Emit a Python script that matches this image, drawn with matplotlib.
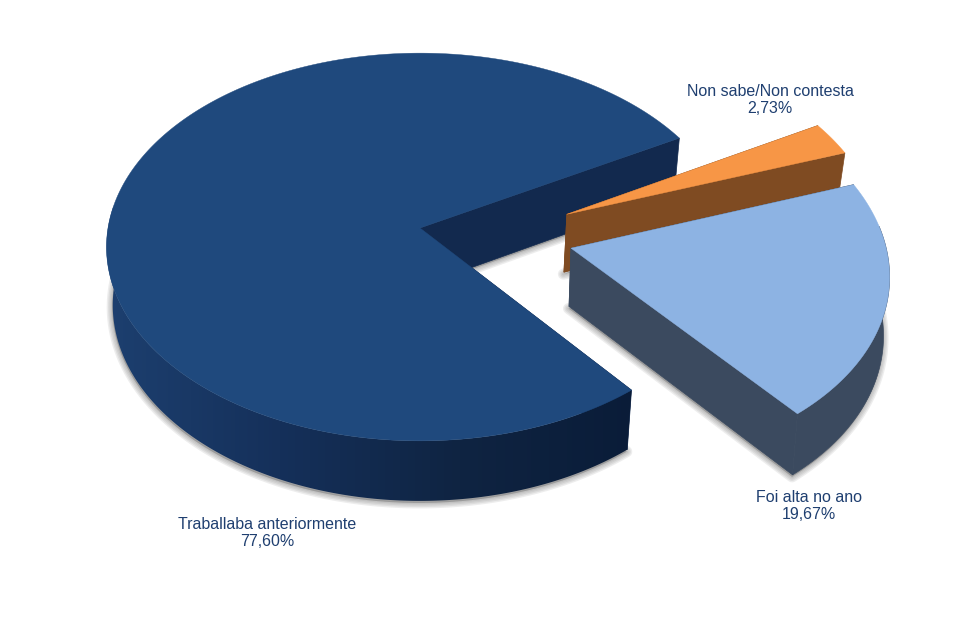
import numpy as np
import matplotlib
matplotlib.use("Agg")
import matplotlib.pyplot as plt
from matplotlib.patches import Polygon
from matplotlib.colors import LinearSegmentedColormap

plt.rcParams['font.family'] = ['Liberation Sans', 'DejaVu Sans']

categories = ["Traballaba anteriormente", "Foi alta no ano", "Non sabe/Non contesta"]
values = [77.60, 19.67, 2.73]
value_labels = ["77,60%", "19,67%", "2,73%"]

top_colors = ["#1F497D", "#8DB3E3", "#F79646"]
cut_colors = ["#12294E", "#3B4A5F", "#7F4B22"]
big_wall_colors = ["#1D4070", "#15305A", "#0F2442", "#0A1C38"]

# how far each slice is pulled out of the pie, in pie radii
explode_u = [0.0, 0.479, 0.474]
explode_v = [0.0, -0.104, 0.072]
# how much the bottom rim of each slice shrinks
shrink = [0.98, 0.987, 0.98]

start_angle = 29.4

# projection of the tilted disc, worked out against the picture
CX, CY = 420.0, 228.0
A, B, K = 312.0, 192.0, 0.098
DEPTH = 58.0


def project(u, v, bottom=None):
    w = 1 + K * v
    x = A * u / w
    y = -B * v / w
    if bottom is not None:
        x = x * bottom
        y = y * bottom + DEPTH / w
    return CX + x, CY + y


def slice_arc(a0, a1, ex, ey):
    th = np.radians(np.linspace(a0, a1, int(abs(a1 - a0)) * 2 + 2))
    return ex + np.cos(th), ey + np.sin(th), th


fig = plt.figure(figsize=(9.64, 6.24), dpi=100)
ax = fig.add_axes([0, 0, 1, 1])

angles = np.cumsum([0] + values) / sum(values) * 360 + start_angle
slices = []
for i in range(len(values)):
    slices.append((explode_u[i], explode_v[i]) + slice_arc(angles[i], angles[i + 1], explode_u[i], explode_v[i]))

# soft shadow under the bottom outline of every slice
for i, (ex, ey, u, v, th) in enumerate(slices):
    bx, by = project(np.r_[ex, u], np.r_[ey, v], shrink[i])
    for lw in [8, 6, 4, 2]:
        ax.fill(bx - 0.5, by + 2, facecolor="#555555", edgecolor="#555555",
                alpha=0.1, linewidth=lw, joinstyle="round", zorder=1)

draw_order = [0, 2, 1]
for n, i in enumerate(draw_order):
    ex, ey, u, v, th = slices[i]
    z = 2 + n

    # the two cut faces
    for j in [0, -1]:
        x0, y0 = project(ex, ey)
        x1, y1 = project(u[j], v[j])
        x2, y2 = project(u[j], v[j], shrink[i])
        x3, y3 = project(ex, ey, shrink[i])
        ax.fill([x0, x1, x2, x3], [y0, y1, y2, y3], facecolor=cut_colors[i],
                edgecolor=cut_colors[i], linewidth=0.5, zorder=z)

    # outer wall, only the part that faces the viewer
    keep = np.sin(th) < 0.12
    if keep.sum() > 1:
        tx, ty = project(u[keep], v[keep])
        bx, by = project(u[keep], v[keep], shrink[i])
        wx = np.r_[tx, bx[::-1]]
        wy = np.r_[ty, by[::-1]]
        if i == 0:
            wall = Polygon(np.c_[wx, wy], closed=True, facecolor="none", edgecolor="none")
            ax.add_patch(wall)
            cmap = LinearSegmentedColormap.from_list("wall", big_wall_colors)
            img = ax.imshow(np.linspace(0, 1, 256).reshape(1, -1), cmap=cmap, vmin=0, vmax=1,
                            extent=[100, 640, 624, 0], aspect="auto", zorder=z)
            img.set_clip_path(wall)
        else:
            ax.fill(wx, wy, facecolor=cut_colors[i], edgecolor=cut_colors[i],
                    linewidth=0.5, zorder=z)

    # top surface
    px, py = project(np.r_[ex, u], np.r_[ey, v])
    ax.fill(px, py, facecolor=top_colors[i], edgecolor=top_colors[i],
            linewidth=0.3, zorder=z + 0.5)

label_x = [267, 809, 770]
label_y = [533, 506, 100]
for i in range(len(values)):
    ax.text(label_x[i], label_y[i], categories[i] + "\n" + value_labels[i],
            ha="center", va="center", fontsize=11.5, color="#1F3F70",
            linespacing=1.22, zorder=10)

ax.set_xlim(0, 964)
ax.set_ylim(624, 0)
ax.axis("off")

fig.savefig("out.png", dpi=100, facecolor="white")
